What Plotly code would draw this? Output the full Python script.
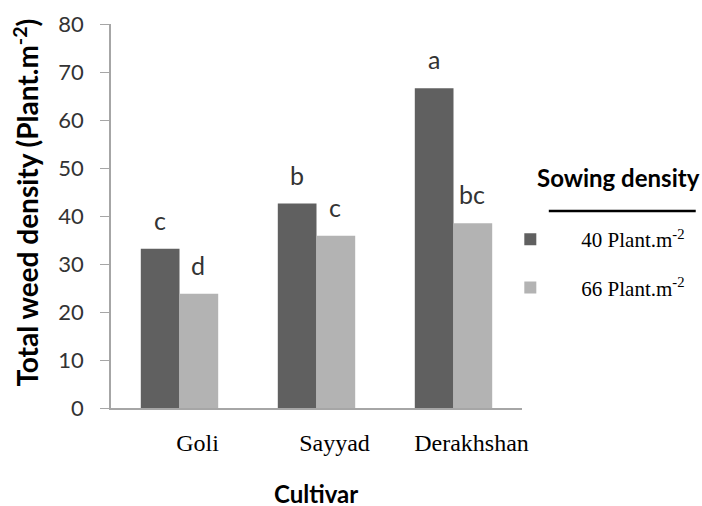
import plotly.graph_objects as go

cultivars = ["Goli", "Sayyad", "Derakhshan"]
density_40 = [33.2, 42.6, 66.6]
density_66 = [23.8, 35.9, 38.5]
letters_40 = ["c", "b", "a"]
letters_66 = ["d", "c", "bc"]
series_names = ["40 Plant.m<sup>-2</sup>", "66 Plant.m<sup>-2</sup>"]
legend_title = "Sowing density"
y_title = "Total weed density (Plant.m<sup>-2</sup>)"
x_title = "Cultivar"
y_ticks = [0, 10, 20, 30, 40, 50, 60, 70, 80]

DARK = "#606060"
LIGHT = "#b3b3b3"
SANS = "Lato, 'Open Sans', sans-serif"
SERIF = "'Liberation Serif', 'Times New Roman', serif"

# plot area in pixels
L, R, T, B = 111, 525, 24, 408
W, H = R - L, B - T

def px(x):
    return (x - L) / W

def py(y):
    return (B - y) / H

fig = go.Figure()
fig.add_trace(go.Bar(x=cultivars, y=density_40, name=series_names[0], legendgroup="g40",
                     marker=dict(color=DARK, line=dict(width=0))))
fig.add_trace(go.Bar(x=cultivars, y=density_66, name=series_names[1], legendgroup="g66",
                     marker=dict(color=LIGHT, line=dict(width=0))))

annotations = []
for i, c in enumerate(cultivars):
    annotations.append(dict(x=c, y=density_40[i], text=letters_40[i], xref="x", yref="y",
                            xshift=-20, yshift=29, showarrow=False,
                            font=dict(family=SANS, size=25, color="#333333")))
    annotations.append(dict(x=c, y=density_66[i], text=letters_66[i], xref="x", yref="y",
                            xshift=18, yshift=29, showarrow=False,
                            font=dict(family=SANS, size=25, color="#333333")))
annotations.append(dict(x=px(622), y=py(177), xref="paper", yref="paper",
                        xanchor="center", yanchor="middle",
                        text="<b>" + legend_title + "</b>", showarrow=False,
                        font=dict(family=SANS, size=24, color="black")))
annotations.append(dict(x=px(25), y=py(203), xref="paper", yref="paper",
                        xanchor="center", yanchor="middle", textangle=-90,
                        text="<b>" + y_title + "</b>", showarrow=False,
                        font=dict(family=SANS, size=28, color="black")))
annotations.append(dict(x=px(317), y=py(493), xref="paper", yref="paper",
                        xanchor="center", yanchor="middle",
                        text="<b>" + x_title + "</b>", showarrow=False,
                        font=dict(family=SANS, size=24, color="black")))

fig.update_layout(
    width=702, height=506,
    margin=dict(l=L, r=702 - R, t=T, b=506 - B),
    paper_bgcolor="white", plot_bgcolor="white",
    barmode="group", bargap=0.435, bargroupgap=0,
    font=dict(family=SANS, color="#333333"),
    xaxis=dict(showline=True, linecolor="#a6a6a6", linewidth=1.5, ticks="",
               automargin=False,
               tickfont=dict(family=SERIF, size=24, color="black"),
               ticklabelshift=18, ticklabelstandoff=12),
    yaxis=dict(range=[0, 80], tickvals=y_ticks, showline=True, linecolor="#a6a6a6",
               linewidth=1.5, ticks="outside", ticklen=9, tickcolor="#a6a6a6",
               showgrid=False, zeroline=False, automargin=False,
               ticklabelstandoff=12,
               tickfont=dict(family=SANS, size=22, color="#333333")),
    legend=dict(x=px(482), xanchor="left", y=py(219), yanchor="top",
                bgcolor="rgba(0,0,0,0)", traceorder="grouped", tracegroupgap=18,
                font=dict(family=SERIF, size=21, color="black"),
                itemwidth=92),
    annotations=annotations,
)
fig.add_shape(type="line", xref="paper", yref="paper",
              x0=px(552), x1=px(700), y0=py(211), y1=py(211),
              line=dict(color="black", width=2.5))

fig.write_html("out.html", config={"displayModeBar": False},
               post_script="document.body.style.margin='0';document.body.style.overflow='hidden';")
